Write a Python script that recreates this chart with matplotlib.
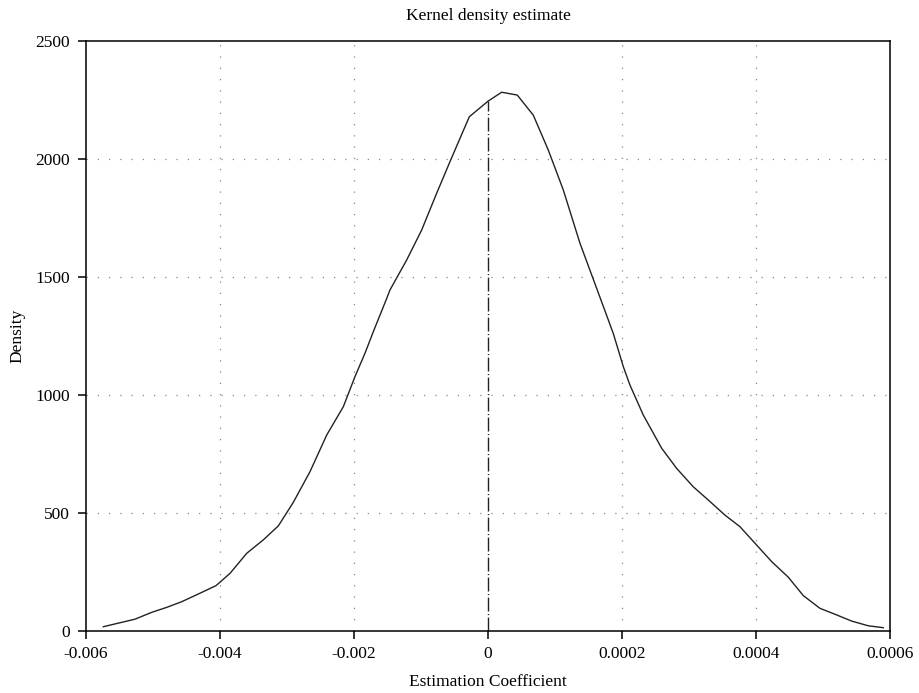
import matplotlib
matplotlib.use('Agg')
import matplotlib.pyplot as plt

# kernel density curve
coef = [-0.005742, -0.005269, -0.005019, -0.004796, -0.004572, -0.004299, -0.004060,
        -0.003851, -0.003602, -0.003354, -0.003130, -0.002906, -0.002657, -0.002408,
        -0.002160, -0.001985, -0.001836, -0.001712, -0.001522, -0.001463, -0.001214,
        -0.000990, -0.000766, -0.000567, -0.000279, 0.0, 0.000204, 0.000437, 0.000676,
        0.000900, 0.001124, 0.001373, 0.001622, 0.001870, 0.002020, 0.002119, 0.002318,
        0.002593, 0.002816, 0.003064, 0.003288, 0.003537, 0.003761, 0.004010, 0.004234,
        0.004482, 0.004706, 0.004955, 0.005204, 0.005428, 0.005676, 0.005900]
density = [18, 50, 79, 100, 124, 160, 192, 244, 329, 386, 445, 545, 675, 830, 950,
           1078, 1177, 1268, 1402, 1445, 1572, 1699, 1855, 1989, 2179, 2245, 2283, 2271,
           2186, 2038, 1869, 1643, 1452, 1261, 1120, 1042, 915, 774, 689, 611, 555, 491,
           442, 364, 294, 228, 150, 96, 68, 42, 22, 14]

x_ticks = [-0.006, -0.004, -0.002, 0, 0.002, 0.004, 0.006]
x_labels = ['-0.006', '-0.004', '-0.002', '0', '0.0002', '0.0004', '0.0006']
y_ticks = [0, 500, 1000, 1500, 2000, 2500]
peak_at_zero = 2245

plt.rcParams['font.family'] = ['Liberation Serif', 'DejaVu Serif']
plt.rcParams['font.size'] = 12.5

fig = plt.figure(figsize=(9.19, 6.93), dpi=100)
ax = fig.add_axes([0.0936, 0.0895, 0.8748, 0.8513])

#grid lines
for xv in x_ticks[1:-1]:
    if xv != 0:
        ax.axvline(xv, color='#888888', linestyle=(0, (1, 8)), linewidth=0.9, zorder=1)
for yv in y_ticks[1:-1]:
    ax.axhline(yv, color='#888888', linestyle=(0, (1, 8)), linewidth=0.9, zorder=1)

ax.plot(coef, density, color='#222222', linewidth=1.0, zorder=3)
ax.plot([0, 0], [0, peak_at_zero], color='#222222', linewidth=1.0,
        linestyle=(0, (10, 1.8, 0.8, 1.8)), zorder=2)

ax.set_xlim(-0.006, 0.006)
ax.set_ylim(0, 2500)
ax.set_xticks(x_ticks)
ax.set_xticklabels(x_labels)
ax.set_yticks(y_ticks)
ax.tick_params(direction='out', length=5.8, width=1.1)
ax.tick_params(axis='y', pad=6)
ax.tick_params(axis='x', pad=5)
for s in ax.spines.values():
    s.set_linewidth(1.1)

ax.set_xlabel('Estimation Coefficient', labelpad=9)
ax.set_ylabel('Density', labelpad=7)
ax.set_title('Kernel density estimate', fontsize=12.5, pad=15)

plt.savefig('out.png', dpi=100)
